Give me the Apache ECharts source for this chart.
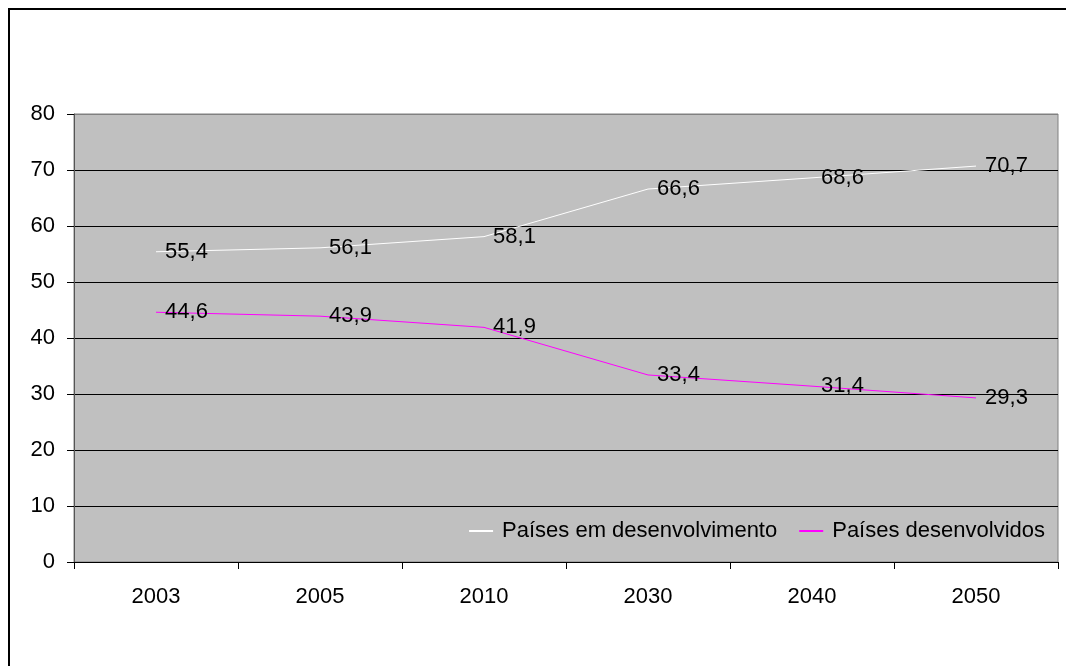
<!DOCTYPE html>
<html>
<head>
<meta charset="utf-8">
<script src="https://cdn.jsdelivr.net/npm/echarts@6/dist/echarts.min.js"></script>
<style>
  html, body { margin: 0; padding: 0; background: #fff; }
  #chart { width: 1066px; height: 666px; }
</style>
</head>
<body>
<div id="chart"></div>
<script>
// Share of population by group of countries, 2003–2050
const years = ['2003', '2005', '2010', '2030', '2040', '2050'];
const emDesenvolvimento = [55.4, 56.1, 58.1, 66.6, 68.6, 70.7];
const desenvolvidos = [44.6, 43.9, 41.9, 33.4, 31.4, 29.3];
const seriesNames = ['Países em desenvolvimento', 'Países desenvolvidos'];

const font = 'Arial, "Liberation Sans", sans-serif';
const fs = 22;
const fmt = p => String(p.value).replace('.', ',');

const labelStyle = {
  show: true, position: 'right', distance: 9,
  fontSize: fs, color: '#000', fontFamily: font, formatter: fmt
};

const chart = echarts.init(document.getElementById('chart'));
chart.setOption({
  animation: false,
  textStyle: { fontFamily: font },
  graphic: [{
    type: 'rect',
    shape: { x: 9, y: 9, width: 1100, height: 700 },
    style: { fill: 'none', stroke: '#000', lineWidth: 2 },
    silent: true
  }],
  grid: {
    left: 74, top: 114, right: 8, bottom: 104,
    show: true, backgroundColor: '#C0C0C0', borderColor: '#808080', borderWidth: 1
  },
  legend: {
    right: 16, top: 515,
    icon: 'rect',
    itemWidth: 24, itemHeight: 2, itemGap: 22,
    textStyle: { fontSize: fs, color: '#000', fontFamily: font, padding: [0, 0, 0, 4] },
    data: seriesNames
  },
  xAxis: {
    type: 'category',
    data: years,
    boundaryGap: true,
    axisLine: { lineStyle: { color: '#000', width: 1 } },
    axisTick: { show: true, length: 7, lineStyle: { color: '#000' } },
    axisLabel: { fontSize: fs, color: '#000', margin: 24, fontFamily: font }
  },
  yAxis: {
    type: 'value',
    min: 0, max: 80, interval: 10,
    axisLine: { show: true, lineStyle: { color: '#555', width: 1 } },
    axisTick: { show: true, length: 7, lineStyle: { color: '#000' } },
    axisLabel: { fontSize: fs, color: '#000', margin: 19, fontFamily: font },
    splitLine: {
      show: true,
      lineStyle: { color: ['#000', '#000', '#000', '#000', '#000', '#000', '#000', '#000', '#808080'], width: 1 }
    }
  },
  series: [
    {
      name: seriesNames[0],
      type: 'line',
      data: emDesenvolvimento,
      symbol: 'circle',
      symbolSize: 0.1,
      lineStyle: { color: '#FFFFFF', width: 1 },
      itemStyle: { color: '#FFFFFF' },
      label: labelStyle
    },
    {
      name: seriesNames[1],
      type: 'line',
      data: desenvolvidos,
      symbol: 'circle',
      symbolSize: 0.1,
      lineStyle: { color: '#FF00FF', width: 1 },
      itemStyle: { color: '#FF00FF' },
      label: labelStyle
    }
  ]
});
</script>
</body>
</html>
